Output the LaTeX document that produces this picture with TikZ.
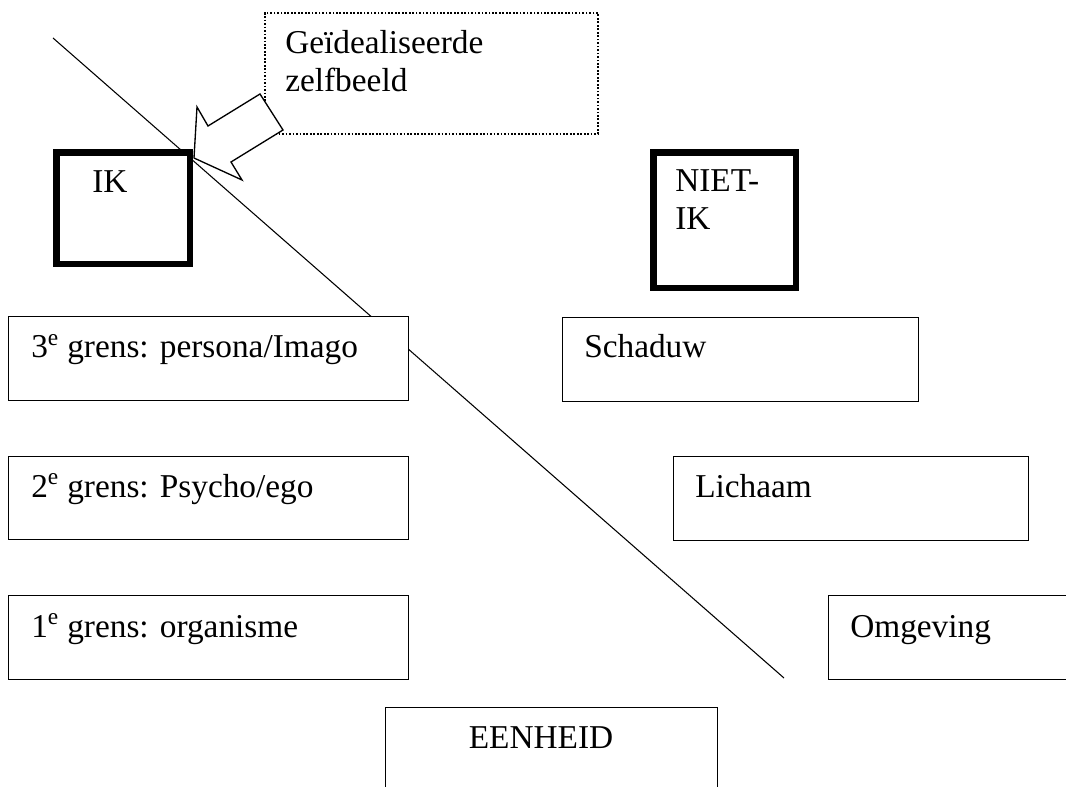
\documentclass[tikz,border=0pt]{standalone}
\usepackage{fontspec}
\setmainfont{Liberation Serif}
\begin{document}
\begin{tikzpicture}[x=0.75pt,y=-0.75pt,
  kader/.style={draw, fill=white, line width=1pt, anchor=north west, inner sep=0pt},
  dikkader/.style={kader, line width=5pt},
  stippelkader/.style={kader, line width=1.3pt, dash pattern=on 1.3pt off 1.3pt},
  tekst/.style={anchor=base west, inner sep=0pt, align=left, font=\fontsize{25}{28.5}\selectfont},
  pijl/.style={draw, fill=white, line width=1pt, line join=miter},
  grenslijn/.style={line width=0.8pt}]
\useasboundingbox (0,0) rectangle (1066,787);

\coordinate (boven) at (53,38);
\coordinate (onder) at (784,678);
\draw[grenslijn] (boven) -- (onder);

\node[dikkader, minimum width=133.4*0.75pt, minimum height=111.4*0.75pt] (ik) at (53.3,149.3) {};
\node[tekst] (ik-tekst) at (92,193) {IK};

\node[dikkader, minimum width=142.4*0.75pt, minimum height=135.4*0.75pt] (nietik) at (650.3,149.3) {};
\node[tekst] (nietik-tekst) at (675,230) {NIET-\\IK};

\node[kader, minimum width=400*0.75pt, minimum height=84*0.75pt] (grens3) at (8,316) {};
\node[tekst] (grens3-tekst) at (31,358) {3\textsuperscript{e} grens: persona/Imago};

\node[kader, minimum width=356*0.75pt, minimum height=84*0.75pt] (schaduw) at (562,317) {};
\node[tekst] (schaduw-tekst) at (584,358) {Schaduw};

\node[kader, minimum width=400*0.75pt, minimum height=83*0.75pt] (grens2) at (8,456) {};
\node[tekst] (grens2-tekst) at (31,497) {2\textsuperscript{e} grens: Psycho/ego};

\node[kader, minimum width=355*0.75pt, minimum height=84*0.75pt] (lichaam) at (673,456) {};
\node[tekst] (lichaam-tekst) at (695,497) {Lichaam};

\node[kader, minimum width=400*0.75pt, minimum height=84*0.75pt] (grens1) at (8,595) {};
\node[tekst] (grens1-tekst) at (31,637) {1\textsuperscript{e} grens: organisme};

\node[kader, minimum width=300*0.75pt, minimum height=84*0.75pt] (omgeving) at (828,595) {};
\node[tekst] (omgeving-tekst) at (850,637) {Omgeving};

\node[kader, minimum width=332*0.75pt, minimum height=120*0.75pt] (eenheid) at (385,707) {};
\node[tekst, anchor=base] (eenheid-tekst) at (541,748) {EENHEID};

\node[stippelkader, minimum width=333*0.75pt, minimum height=121*0.75pt] (ideaal) at (264,12) {};
\node[tekst] (ideaal-tekst) at (285,92) {Geïdealiseerde\\zelfbeeld};

\coordinate (punt) at (194,158);
\draw[pijl] (punt) -- ++(3,-51) -- ++(11,19) -- ++(52,-32) -- ++(23,36)
  -- ++(-52,32) -- ++(11,18) -- cycle;
\end{tikzpicture}
\end{document}
